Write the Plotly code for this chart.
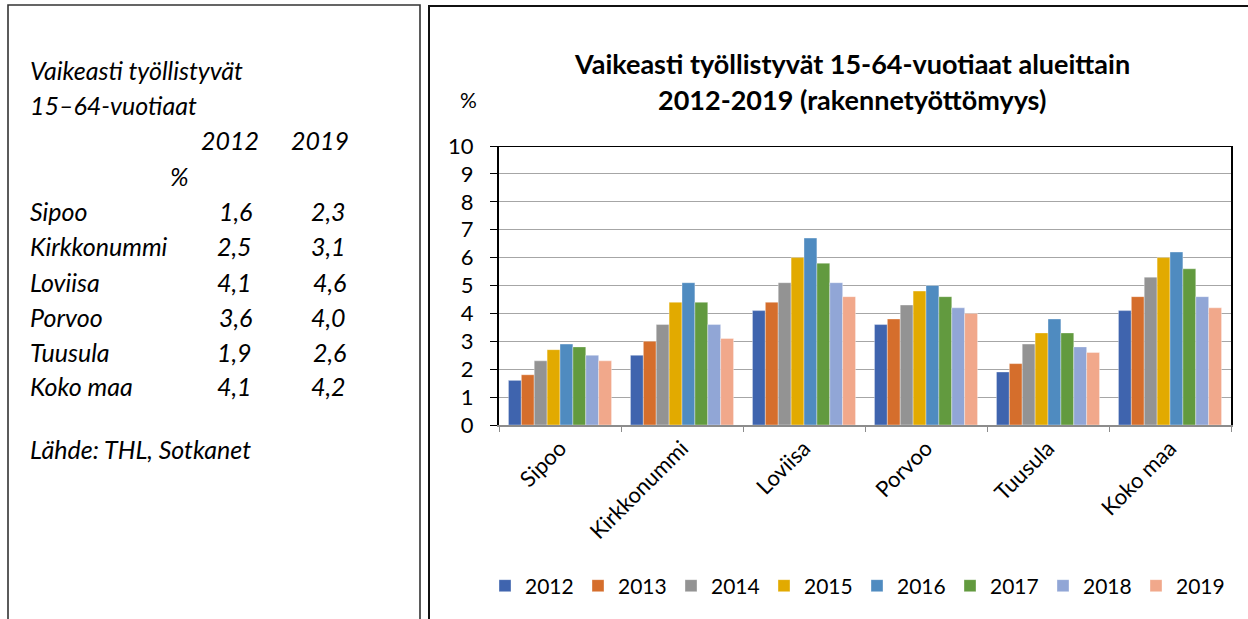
import plotly.graph_objects as go

regions = ["Sipoo", "Kirkkonummi", "Loviisa", "Porvoo", "Tuusula", "Koko maa"]
years = ["2012", "2013", "2014", "2015", "2016", "2017", "2018", "2019"]
v2012 = [1.6, 2.5, 4.1, 3.6, 1.9, 4.1]
v2013 = [1.8, 3.0, 4.4, 3.8, 2.2, 4.6]
v2014 = [2.3, 3.6, 5.1, 4.3, 2.9, 5.3]
v2015 = [2.7, 4.4, 6.0, 4.8, 3.3, 6.0]
v2016 = [2.9, 5.1, 6.7, 5.0, 3.8, 6.2]
v2017 = [2.8, 4.4, 5.8, 4.6, 3.3, 5.6]
v2018 = [2.5, 3.6, 5.1, 4.2, 2.8, 4.6]
v2019 = [2.3, 3.1, 4.6, 4.0, 2.6, 4.2]
series = [v2012, v2013, v2014, v2015, v2016, v2017, v2018, v2019]
colors = ["#3F64AE", "#D56E2C", "#939393", "#E2AA00", "#4F8BC0", "#629A3F", "#91A6D6", "#F1A88B"]
yticks = list(range(0, 11))
title_lines = ["Vaikeasti työllistyvät 15-64-vuotiaat alueittain", "2012-2019 (rakennetyöttömyys)"]

W, H = 1248, 619
def px(x):
    return x / W
def py(y):
    return 1 - y / H

fig = go.Figure()
for yr, vals, col in zip(years, series, colors):
    fig.add_trace(go.Bar(x=regions, y=vals, name=yr, marker=dict(color=col, line=dict(color="rgba(255,255,255,0.6)", width=0.6))))

FONT = "Lato"
shapes = [
    dict(type="rect", xref="paper", yref="paper", x0=px(8), x1=px(420), y0=py(640), y1=py(5),
         line=dict(color="#333333", width=1.6)),
    dict(type="rect", xref="paper", yref="paper", x0=px(429), x1=px(1260), y0=py(640), y1=py(6),
         line=dict(color="#111111", width=2)),
    dict(type="line", xref="x domain", yref="y", x0=0, x1=1, y0=10, y1=10,
         line=dict(color="black", width=2)),
]

anns = []
def lt(text, x, y, anchor="left", size=25, italic=True):
    anns.append(dict(text=("<i>%s</i>" % text) if italic else text, x=px(x), y=py(y),
                     xref="paper", yref="paper", xanchor=anchor, yanchor="middle",
                     showarrow=False, font=dict(family=FONT, size=size, color="black")))

lt("Vaikeasti työllistyvät", 28, 70)
lt("15–64-vuotiaat", 28, 105)
lt("2012", 261, 140, "right")
lt("2019", 351, 140, "right")
lt("%", 191, 176, "right")
rows_y = [211, 246, 282, 317, 352, 386]
for name, a, b, yy in zip(regions, v2012, v2019, rows_y):
    lt(name, 28, yy)
    lt(("%.1f" % a).replace(".", ","), 254, yy, "right")
    lt(("%.1f" % b).replace(".", ","), 348, yy, "right")
lt("Lähde: THL, Sotkanet", 28, 449)

for line, yy in zip(title_lines, [63, 100]):
    anns.append(dict(text="<b>%s</b>" % line, x=px(852), y=py(yy), xref="paper", yref="paper",
                     xanchor="center", yanchor="middle", showarrow=False,
                     font=dict(family=FONT, size=27, color="black")))
anns.append(dict(text="%", x=px(468), y=py(99), xref="paper", yref="paper", xanchor="center",
                 yanchor="middle", showarrow=False, font=dict(family=FONT, size=21, color="black")))

fig.update_layout(
    width=W, height=H, margin=dict(l=0, r=0, t=0, b=0, autoexpand=False),
    paper_bgcolor="white", plot_bgcolor="white",
    barmode="group", bargap=0.155, bargroupgap=0,
    font=dict(family=FONT, size=22, color="black"),
    shapes=shapes, annotations=anns,
    legend=dict(orientation="h", x=px(857), y=py(586), xanchor="center", yanchor="middle",
                font=dict(family=FONT, size=21), itemwidth=30, tracegroupgap=0,
                entrywidth=48),
    xaxis=dict(domain=[px(499), px(1231)], tickangle=-45, showline=True, linecolor="#8C8C8C",
               linewidth=1.5, ticks="outside", tickson="boundaries", ticklen=5, tickcolor="#8C8C8C",
               tickfont=dict(family=FONT, size=22), showgrid=False, automargin=False),
    yaxis=dict(domain=[py(425), py(146)], range=[0, 10], tickvals=yticks, showline=True, mirror=True,
               linecolor="black", linewidth=2, ticks="outside", ticklen=7, tickcolor="black",
               showgrid=True, gridcolor="#A6A6A6", gridwidth=1.2, zeroline=False, automargin=False,
               ticklabelstandoff=12, tickfont=dict(family=FONT, size=22)),
)

fig.write_html("out.html", config={"displayModeBar": False},
               post_script="document.body.style.margin='0';")
